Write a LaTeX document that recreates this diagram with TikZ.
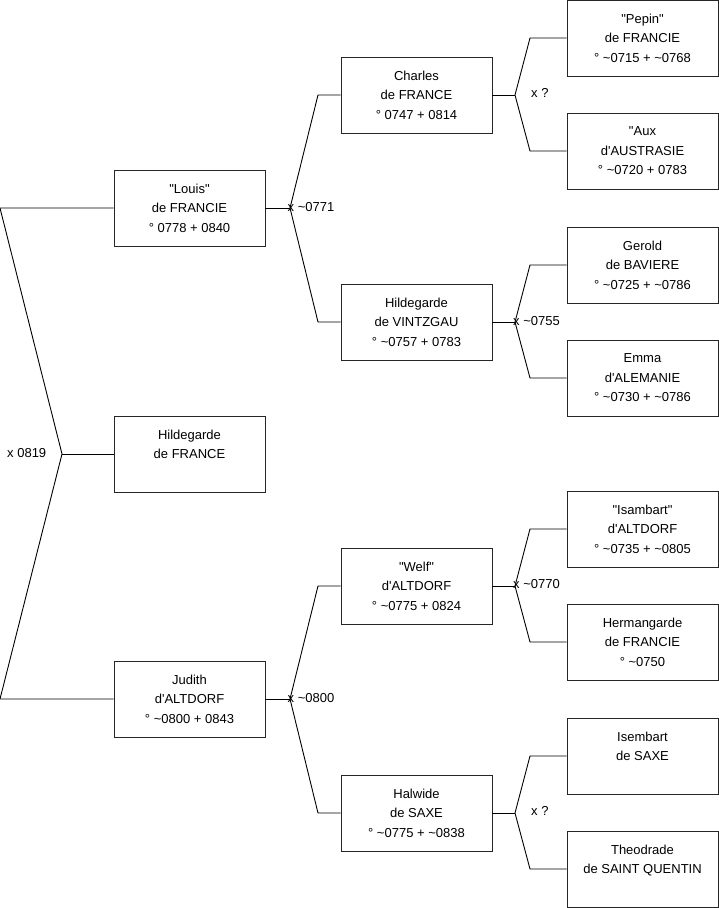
\documentclass[tikz,border=0pt]{standalone}
\usepackage{fontspec}
\setmainfont{Liberation Sans}[Ligatures=TeXOff]
\newcommand\tld{\char126\relax}
\begin{document}
\begin{tikzpicture}[x=1pt,y=-1pt,
  box/.style={draw=black!85, line width=0.9pt, minimum width=151pt, minimum height=76pt, align=center, inner sep=0pt, font=\fontsize{13}{19.5}\selectfont},
  conn/.style={draw=black, line width=0.9pt},
  lab/.style={anchor=west, inner sep=0pt, font=\fontsize{13}{15}\selectfont}]
\useasboundingbox (0,0) rectangle (719,908);
% generation 1
\node[box] (louis) at (189.5,208) {"Louis"\\de FRANCIE\\° 0778 + 0840};
\node[box] (hild) at (189.5,454) {Hildegarde\\de FRANCE\\\mbox{}};
\node[box] (judith) at (189.5,699) {Judith\\d'ALTDORF\\° \tld 0800 + 0843};
% generation 2
\node[box] (charles) at (416.5,95) {Charles\\de FRANCE\\° 0747 + 0814};
\node[box] (vintz) at (416.5,322) {Hildegarde\\de VINTZGAU\\° \tld 0757 + 0783};
\node[box] (welf) at (416.5,586) {"Welf"\\d'ALTDORF\\° \tld 0775 + 0824};
\node[box] (halwide) at (416.5,813) {Halwide\\de SAXE\\° \tld 0775 + \tld 0838};
% generation 3
\node[box] (pepin) at (642.5,38) {"Pepin"\\de FRANCIE\\° \tld 0715 + \tld 0768};
\node[box] (aux) at (642.5,151) {"Aux\\d'AUSTRASIE\\° \tld 0720 + 0783};
\node[box] (gerold) at (642.5,265) {Gerold\\de BAVIERE\\° \tld 0725 + \tld 0786};
\node[box] (emma) at (642.5,378) {Emma\\d'ALEMANIE\\° \tld 0730 + \tld 0786};
\node[box] (isambart) at (642.5,529) {"Isambart"\\d'ALTDORF\\° \tld 0735 + \tld 0805};
\node[box] (herm) at (642.5,642) {Hermangarde\\de FRANCIE\\° \tld 0750};
\node[box] (isembart) at (642.5,756) {Isembart\\de SAXE\\\mbox{}};
\node[box] (theo) at (642.5,869) {Theodrade\\de SAINT QUENTIN\\\mbox{}};
% coordinates
\coordinate (a0) at (0,208);
\coordinate (af) at (62,454);
\coordinate (a1) at (0,699);
\coordinate (bf) at (290,208);
\coordinate (b0) at (318,95);
\coordinate (b1) at (318,322);
\coordinate (cf) at (290,699);
\coordinate (c0) at (318,586);
\coordinate (c1) at (318,813);
\coordinate (df) at (515,95);
\coordinate (d0) at (530,38);
\coordinate (d1) at (530,151);
\coordinate (ef) at (515,322);
\coordinate (e0) at (530,265);
\coordinate (e1) at (530,378);
\coordinate (ff) at (515,586);
\coordinate (f0) at (530,529);
\coordinate (f1) at (530,642);
\coordinate (gf) at (515,813);
\coordinate (g0) at (530,756);
\coordinate (g1) at (530,869);
% connectors
\draw[conn] (louis.west) -- (a0) -- (af) -- (a1) -- (judith.west);
\draw[conn] (af) -- (hild.west);
\draw[conn] (louis.east) -- (bf);
\draw[conn] (charles.west) -- (b0) -- (bf) -- (b1) -- (vintz.west);
\draw[conn] (judith.east) -- (cf);
\draw[conn] (welf.west) -- (c0) -- (cf) -- (c1) -- (halwide.west);
\draw[conn] (charles.east) -- (df);
\draw[conn] (pepin.west) -- (d0) -- (df) -- (d1) -- (aux.west);
\draw[conn] (vintz.east) -- (ef);
\draw[conn] (gerold.west) -- (e0) -- (ef) -- (e1) -- (emma.west);
\draw[conn] (welf.east) -- (ff);
\draw[conn] (isambart.west) -- (f0) -- (ff) -- (f1) -- (herm.west);
\draw[conn] (halwide.east) -- (gf);
\draw[conn] (isembart.west) -- (g0) -- (gf) -- (g1) -- (theo.west);
% labels
\node[lab] (la) at (7,453) {x 0819};
\node[lab] (lb) at (287.5,207) {x \tld 0771};
\node[lab] (lc) at (287.5,698) {x \tld 0800};
\node[lab] (ld) at (531,93) {x ?};
\node[lab] (le) at (513,321) {x \tld 0755};
\node[lab] (lf) at (513,584) {x \tld 0770};
\node[lab] (lg) at (531,811) {x ?};
\end{tikzpicture}
\end{document}
